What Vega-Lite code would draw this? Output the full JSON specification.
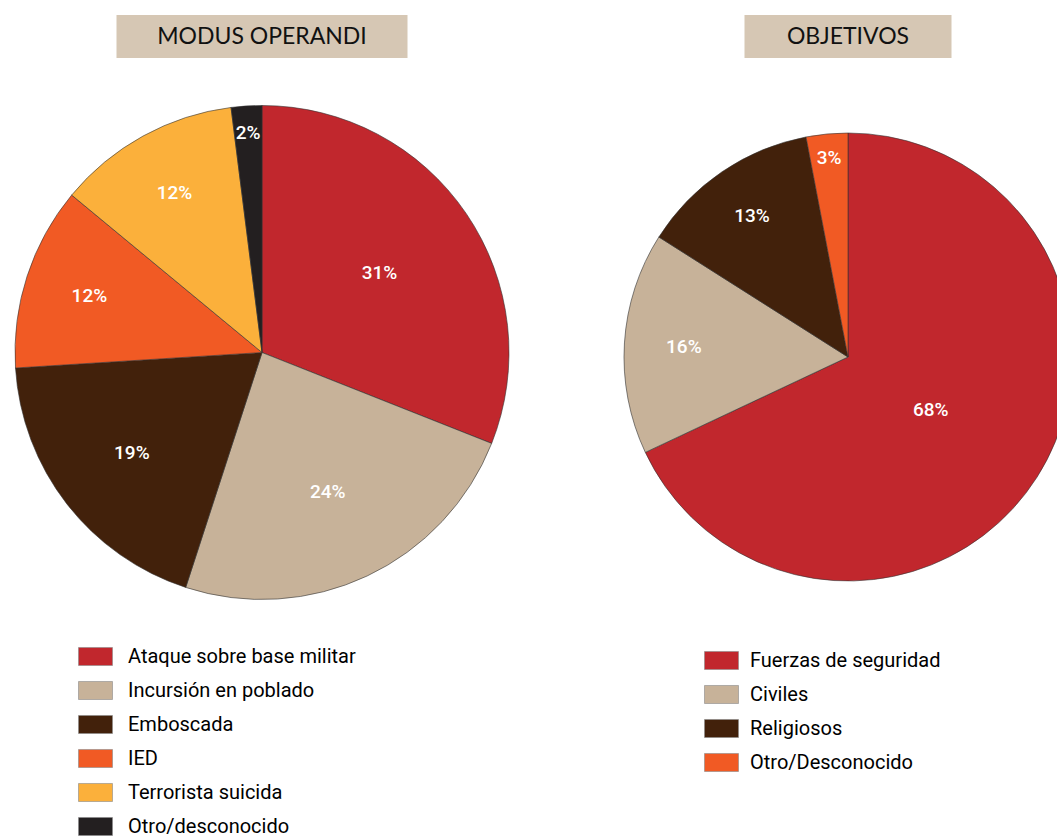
{
  "$schema": "https://vega.github.io/schema/vega-lite/v6.json",
  "background": "white",
  "padding": {"left": 2, "top": 15, "right": 0, "bottom": 0},
  "spacing": 100,
  "config": {
    "view": {"stroke": null},
    "legend": {
      "orient": "none",
      "direction": "vertical",
      "title": null,
      "labelFont": "Roboto",
      "labelFontSize": 20,
      "labelColor": "#000000",
      "labelLimit": 400,
      "rowPadding": 6,
      "labelOffset": 15,
      "symbolType": "M-1,-0.53H1V0.53H-1Z",
      "symbolSize": 1156,
      "symbolStrokeColor": "#8a8a8a",
      "symbolStrokeWidth": 0.6,
      "symbolOpacity": 1
    }
  },
  "resolve": {
    "scale": {"color": "independent", "theta": "independent", "radius": "independent"},
    "legend": {"color": "independent"}
  },
  "hconcat": [
    {
      "vconcat": [
        {
          "width": 291,
          "height": 43,
          "view": {"fill": "#d6c7b4", "stroke": null},
          "data": {"values": [{"t": "MODUS OPERANDI"}]},
          "mark": {"type": "text", "font": "Lato", "fontSize": 23, "color": "#111111", "align": "center", "baseline": "middle"},
          "encoding": {"text": {"field": "t"}}
        },
        {
          "width": 520,
          "height": 495,
          "data": {
            "values": [
              {"cat": "Ataque sobre base militar", "pct": 31, "lbl": "31%", "o": 1},
              {"cat": "Incursión en poblado", "pct": 24, "lbl": "24%", "o": 2},
              {"cat": "Emboscada", "pct": 19, "lbl": "19%", "o": 3},
              {"cat": "IED", "pct": 12, "lbl": "12%", "o": 4},
              {"cat": "Terrorista suicida", "pct": 12, "lbl": "12%", "o": 5},
              {"cat": "Otro/desconocido", "pct": 2, "lbl": "2%", "o": 6}
            ]
          },
          "encoding": {
            "theta": {"field": "pct", "type": "quantitative", "stack": true},
            "order": {"field": "o", "type": "quantitative"}
          },
          "layer": [
            {
              "mark": {"type": "arc", "outerRadius": 247, "stroke": "#333333", "strokeWidth": 0.6},
              "encoding": {
                "color": {
                  "field": "cat",
                  "type": "nominal",
                  "scale": {
                    "domain": ["Ataque sobre base militar", "Incursión en poblado", "Emboscada", "IED", "Terrorista suicida", "Otro/desconocido"],
                    "range": ["#c1272d", "#c7b299", "#42210b", "#f15a24", "#fbb03b", "#231f20"]
                  },
                  "legend": {"legendX": 76, "legendY": 624}
                }
              }
            },
            {
              "mark": {"type": "text", "fill": "white", "font": "Roboto", "fontWeight": 500, "fontSize": 19, "align": "center", "baseline": "middle"},
              "encoding": {
                "text": {"field": "lbl"},
                "radius": {"field": "pct", "type": "quantitative", "scale": {"type": "sqrt", "zero": false, "domain": [2, 31], "range": [220, 142]}}
              }
            }
          ]
        }
      ],
      "spacing": 47,
      "center": true,
      "bounds": "flush"
    },
    {
      "vconcat": [
        {
          "width": 207,
          "height": 43,
          "view": {"fill": "#d6c7b4", "stroke": null},
          "data": {"values": [{"t": "OBJETIVOS"}]},
          "mark": {"type": "text", "font": "Lato", "fontSize": 23, "color": "#111111", "align": "center", "baseline": "middle"},
          "encoding": {"text": {"field": "t"}}
        },
        {
          "width": 448,
          "height": 504,
          "data": {
            "values": [
              {"cat": "Fuerzas de seguridad", "pct": 68, "lbl": "68%", "o": 1},
              {"cat": "Civiles", "pct": 16, "lbl": "16%", "o": 2},
              {"cat": "Religiosos", "pct": 13, "lbl": "13%", "o": 3},
              {"cat": "Otro/Desconocido", "pct": 3, "lbl": "3%", "o": 4}
            ]
          },
          "encoding": {
            "theta": {"field": "pct", "type": "quantitative", "stack": true},
            "order": {"field": "o", "type": "quantitative"}
          },
          "layer": [
            {
              "mark": {"type": "arc", "outerRadius": 224, "stroke": "#333333", "strokeWidth": 0.6},
              "encoding": {
                "color": {
                  "field": "cat",
                  "type": "nominal",
                  "scale": {
                    "domain": ["Fuerzas de seguridad", "Civiles", "Religiosos", "Otro/Desconocido"],
                    "range": ["#c1272d", "#c7b299", "#42210b", "#f15a24"]
                  },
                  "legend": {"legendX": 80, "legendY": 628, "labelOffset": 11}
                }
              }
            },
            {
              "mark": {"type": "text", "fill": "white", "font": "Roboto", "fontWeight": 500, "fontSize": 19, "align": "center", "baseline": "middle"},
              "encoding": {
                "text": {"field": "lbl"},
                "radius": {"field": "pct", "type": "quantitative", "scale": {"type": "sqrt", "zero": false, "domain": [3, 68], "range": [200, 98]}}
              }
            }
          ]
        }
      ],
      "spacing": 47,
      "center": true,
      "bounds": "flush"
    }
  ]
}
